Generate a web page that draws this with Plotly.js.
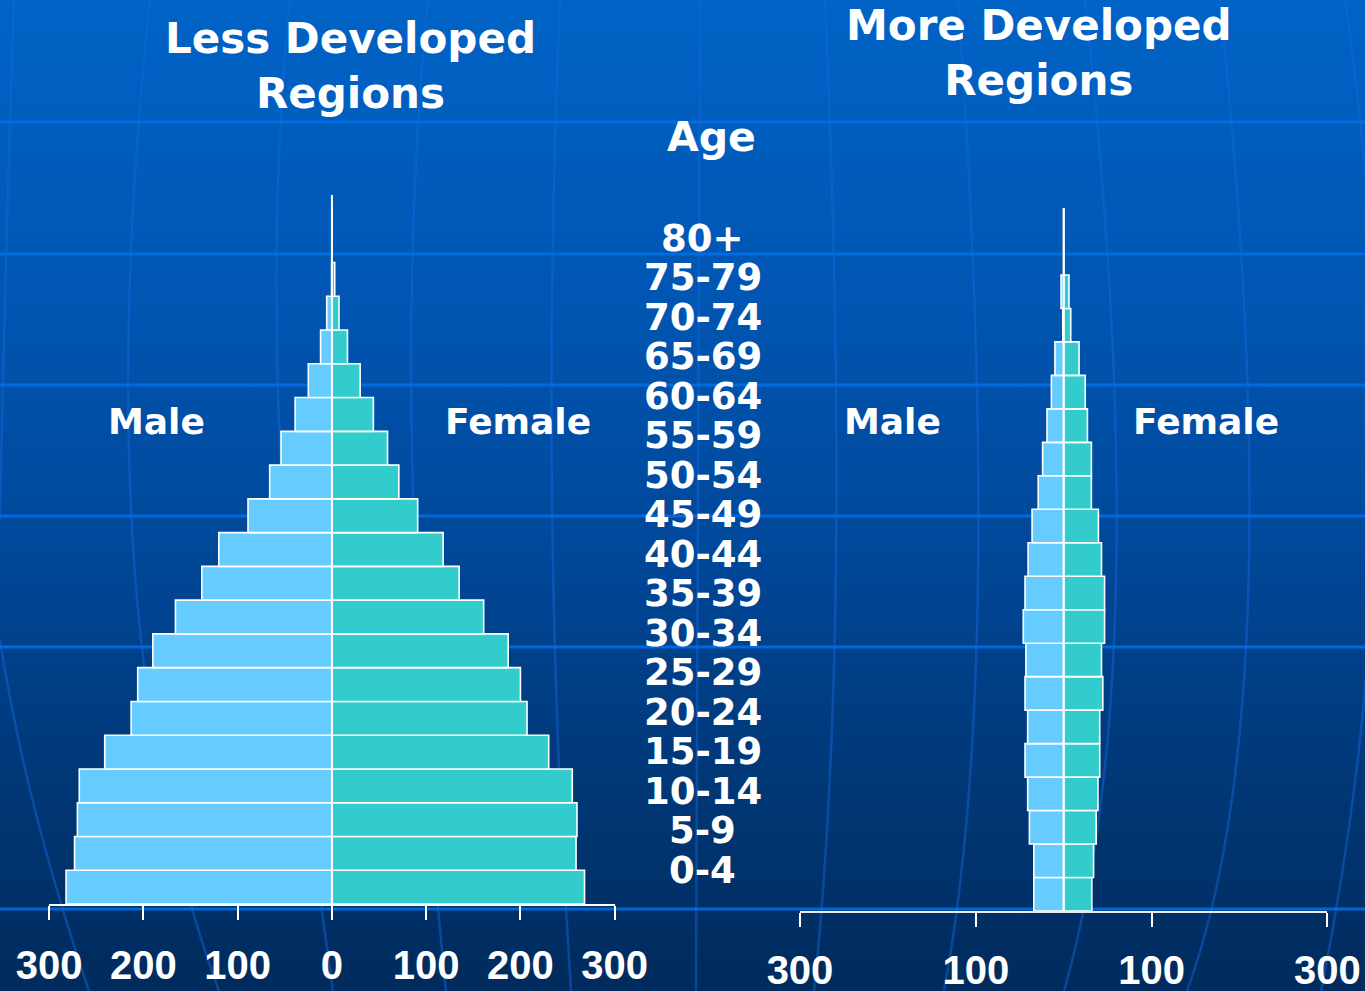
<!DOCTYPE html>
<html>
<head>
<meta charset="utf-8">
<script src="https://cdn.plot.ly/plotly-3.0.1.min.js"></script>
<style>
  html, body { margin: 0; padding: 0; }
  #chart {
    width: 1365px; height: 991px;
    background: linear-gradient(to bottom, #0063C6 0%, #0056B2 30%, #00489A 55%, #003A7C 75%, #002B5C 100%);
  }
</style>
</head>
<body>
<div id="chart"></div>
<script>
// ---- data (population, millions) ----
const ageGroups = ['0-4','5-9','10-14','15-19','20-24','25-29','30-34','35-39','40-44','45-49',
                   '50-54','55-59','60-64','65-69','70-74','75-79','80-84','85-89','90-94','95-99','100+'];
const lessMale   = [282, 273, 270, 268, 241, 213, 206, 190, 166, 138, 120, 89, 66, 54, 39, 25, 12, 5.5, 0.3, 0, 0];
const lessFemale = [268, 259, 260, 255, 230, 207, 200, 187, 161, 135, 118, 91, 71, 59, 44, 30, 16.5, 7.5, 3, 0, 0];
const moreMale   = [34, 34, 39, 41, 44, 41, 44, 43, 46, 44, 40.5, 36, 29, 24, 19, 14, 10, 1, 3, 0, 0];
const moreFemale = [32, 34, 37, 39, 41, 41, 44.5, 43, 46.5, 46.5, 43, 39.5, 31.5, 31.5, 27, 24.5, 17.5, 8, 6, 0, 0];

const ageLabels = ['0-4','5-9','10-14','15-19','20-24','25-29','30-34','35-39','40-44','45-49',
                   '50-54','55-59','60-64','65-69','70-74','75-79','80+'];
const leftTickVals  = [-300,-200,-100,0,100,200,300];
const leftTickText  = ['300','200','100','0','100','200','300'];
const rightTickVals = [-300,-100,100,300];
const rightTickText = ['300','100','100','300'];

const maleColor = '#66CCFF';
const femaleColor = '#33CCCC';

// ---- helpers (layout only) ----
const W = 1365, H = 991;
const px = (x) => x / W;
const py = (y) => 1 - y / H;
const neg = (arr) => arr.map(v => -v);

function bar(x, color, xa, ya) {
  return {
    type: 'bar', orientation: 'h', y: ageGroups, x: x,
    xaxis: xa, yaxis: ya,
    marker: { color: color, line: { color: 'white', width: 1.6 } },
    hoverinfo: 'skip', showlegend: false
  };
}

const traces = [
  bar(neg(lessMale), maleColor, 'x', 'y'),
  bar(lessFemale, femaleColor, 'x', 'y'),
  bar(neg(moreMale), maleColor, 'x2', 'y2'),
  bar(moreFemale, femaleColor, 'x2', 'y2')
];

const tickFont = (s) => ({ family: 'Liberation Sans, Arial, sans-serif', size: s, color: 'white', weight: 'bold' });

function xAxis(domain, vals, text, anchor, size, standoff, lineColor) {
  return {
    domain: domain, range: [-300, 300], anchor: anchor, fixedrange: true,
    tickmode: 'array', tickvals: vals, ticktext: text,
    ticks: 'outside', ticklen: 14, tickwidth: 2, tickcolor: 'white',
    showline: true, linecolor: lineColor, linewidth: 2,
    showgrid: false, zeroline: false,
    tickfont: tickFont(size), ticklabelstandoff: standoff
  };
}
function yAxis(domain, anchor) {
  return {
    domain: domain, anchor: anchor, type: 'category',
    categoryorder: 'array', categoryarray: ageGroups,
    range: [-0.5, ageGroups.length - 0.5],
    showticklabels: false, showline: false, showgrid: false, zeroline: false, ticks: '', fixedrange: true
  };
}

const txtFont = (s) => ({ family: 'DejaVu Sans, Verdana, sans-serif', size: s, color: 'white' });
function note(text, x, y, size) {
  return { text: '<b>' + text + '</b>', xref: 'paper', yref: 'paper', x: px(x), y: py(y),
           xanchor: 'center', yanchor: 'middle', showarrow: false, font: txtFont(size) };
}

const annotations = [
  note('Less Developed<br>Regions', 351, 66, 42),
  note('More Developed<br>Regions', 1039, 53, 42),
  note('Age', 711, 137, 41),
  note('Male', 156, 421, 36),
  note('Female', 518, 421, 36),
  note('Male', 892, 421, 36),
  note('Female', 1206, 421, 36)
];
// age labels column
const labelY0 = 870, labelStep = 39.5;
ageLabels.forEach((t, i) => annotations.push(note(t, 703, labelY0 - i * labelStep, 37)));

// ---- decorative globe grid on the background ----
const shapes = [];
[122, 254, 385, 516, 647, 909].forEach(y => shapes.push({
  type: 'line', xref: 'paper', yref: 'paper', x0: 0, x1: 1, y0: py(y), y1: py(y),
  line: { color: 'rgba(0,112,232,0.85)', width: 3 }, layer: 'below'
}));
const meridians = [
  [[14,0],[6,260],[0,520]],
  [[0,640],[35,810],[89,991]],
  [[150,0],[134,560],[219,991]],
  [[290,0],[280,450],[333,991]],
  [[428,0],[412,450],[446,991]],
  [[560,0],[552,500],[571,991]],
  [[700,0],[698,500],[696,991]],
  [[825,0],[836,560],[814,991]],
  [[958,0],[978,580],[944,991]],
  [[1085,0],[1116,580],[1064,991]],
  [[1220,0],[1248,600],[1187,991]],
  [[1345,0],[1376,500],[1321,991]]
];
meridians.forEach(([p0, p1, p2]) => {
  const c = [2 * p1[0] - (p0[0] + p2[0]) / 2, 2 * p1[1] - (p0[1] + p2[1]) / 2];
  shapes.push({
    type: 'path', xref: 'paper', yref: 'paper', layer: 'below',
    path: `M ${px(p0[0])} ${py(p0[1])} Q ${px(c[0])} ${py(c[1])} ${px(p2[0])} ${py(p2[1])}`,
    line: { color: 'rgba(20,105,225,0.45)', width: 2.5 }
  });
});
// centre (zero) lines of the two pyramids
shapes.push({ type: 'line', xref: 'x', yref: 'y domain', x0: 0, x1: 0, y0: 0, y1: 1,
              line: { color: 'white', width: 2 }, layer: 'above' });
shapes.push({ type: 'line', xref: 'x2', yref: 'y2 domain', x0: 0, x1: 0, y0: 0, y1: 1,
              line: { color: 'white', width: 2 }, layer: 'above' });

const layout = {
  width: W, height: H,
  margin: { l: 0, r: 0, t: 0, b: 0, pad: 0 },
  paper_bgcolor: 'rgba(0,0,0,0)', plot_bgcolor: 'rgba(0,0,0,0)',
  barmode: 'relative', bargap: 0,
  showlegend: false,
  xaxis: xAxis([px(49.1), px(614.7)], leftTickVals, leftTickText, 'y', 40, 11, 'white'),
  yaxis: yAxis([py(904), py(195)], 'x'),
  xaxis2: xAxis([px(800), px(1327.4)], rightTickVals, rightTickText, 'y2', 40, 9, '#E8ECF2'),
  yaxis2: yAxis([py(911), py(208)], 'x2'),
  annotations: annotations,
  shapes: shapes
};

Plotly.newPlot('chart', traces, layout, { displayModeBar: false, staticPlot: true });
</script>
</body>
</html>
